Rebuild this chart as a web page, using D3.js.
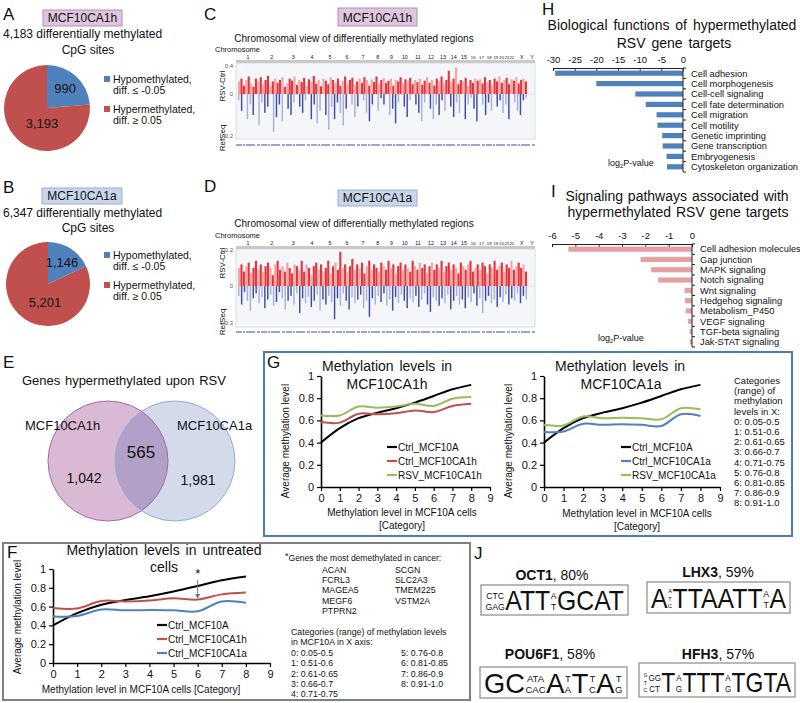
<!DOCTYPE html>
<html>
<head>
<meta charset="utf-8">
<script src="https://cdn.jsdelivr.net/npm/d3@7/dist/d3.min.js"></script>
<style>
html,body{margin:0;padding:0;background:#fff;}
svg{display:block;font-family:"Liberation Sans",Arial,Helvetica,sans-serif;}
</style>
</head>
<body>
<svg id="fig" width="800" height="703"></svg>
<script>
// ================= DATA =================
const pieSeriesNames = ["Hypomethylated,", "Hypermethylated,"];
const pieSeriesSub = ["diff. \u2264 -0.05", "diff. \u2265 0.05"];
const pieValuesA = [990, 3193];
const pieValuesB = [1146, 5201];

const chromNames = ["1","2","3","4","5","6","7","8","9","10","11","12","13","14","15","16","17","18","19","20","21","22","X","Y"];
const chromLenMb = [249,243,198,191,181,171,159,146,141,136,135,134,115,107,103,90,81,78,59,63,48,51,155,59];

const cHyper = [0.18,0.22,0.12,0.2,0.25,0.15,0.1,0.22,0.18,0.24,
0.14,0.2,0.26,0.12,0.18,0.22,0.16,0.2,0.24,0.1,
0.15,0.22,0.19,0.25,0.13,0.2,0.17,0.23,0.12,0.21,
0.18,0.26,0.15,0.2,0.11,0.22,0.19,0.14,0.24,0.2,
0.16,0.22,0.12,0.19,0.25,0.15,0.2,0.23,0.13,0.18,
0.22,0.16,0.24,0.2,0.12,0.21,0.17,0.25,0.14,0.2,
0.23,0.16,0.19,0.22,0.12,0.2,0.18,0.24,0.15,0.21,
0.19,0.23,0.14,0.2,0.17,0.22,0.13,0.19,0.24,0.16,
0.2,0.12,0.22,0.18,0.25,0.15,0.2,0.33,0.17,0.22,
0.38,0.14,0.2,0.18,0.23,0.12,0.2,0.16,0.22,0.19,
0.21,0.15,0.24,0.17,0.2,0.13,0.22,0.18,0.25,0.16,
0.2,0.23,0.14,0.21,0.19,0.24,0.15,0.2,0.22,0.18];
const cHypo = [0.03,0.08,0,0.12,0.05,0.1,0,0.15,0.04,0.09,
0.06,0,0.18,0.11,0.05,0.13,0,0.07,0.1,0.04,
0,0.06,0.09,0.03,0,0.12,0.05,0.14,0.08,0,
0.1,0.17,0.06,0.12,0.04,0.09,0.15,0.07,0,0.05,
0.11,0.06,0,0.03,0.09,0.13,0.05,0,0.08,0.02,
0.05,0,0.1,0.07,0.14,0.04,0,0.06,0.11,0.03,
0,0.05,0.09,0.13,0.04,0,0.07,0.12,0.05,0.1,
0.03,0.08,0,0.06,0.11,0.04,0.09,0,0.12,0.05,
0.02,0.07,0.13,0,0.05,0.1,0.04,0.08,0,0.06,
0.03,0.09,0.05,0.12,0,0.04,0.08,0.1,0.03,0.02];
const dHyper = [0.1,0.12,0.08,0.11,0.13,0.07,0.1,0.14,0.09,0.12,
0.08,0.11,0.13,0.1,0.06,0.12,0.14,0.09,0.11,0.08,
0.13,0.1,0.07,0.12,0.11,0.09,0.14,0.08,0.12,0.1,
0.06,0.11,0.13,0.09,0.12,0.08,0.1,0.14,0.07,0.11,
0.13,0.09,0.19,0.1,0.12,0.08,0.11,0.15,0.09,0.12,
0.1,0.13,0.07,0.11,0.14,0.09,0.12,0.1,0.08,0.13,
0.11,0.09,0.14,0.1,0.12,0.07,0.11,0.13,0.09,0.12,
0.1,0.08,0.14,0.11,0.09,0.13,0.1,0.12,0.07,0.11,
0.13,0.09,0.12,0.1,0.14,0.08,0.11,0.13,0.09,0.12,
0.1,0.07,0.13,0.11,0.09,0.12,0.14,0.08,0.1,0.12,
0.09,0.13,0.11,0.07,0.12,0.1,0.14,0.09,0.11,0.13,
0.08,0.12,0.1,0.14,0.09,0.11,0.13,0.1,0.12,0.08];
const dHypo = [0.08,0.15,0.05,0.12,0.2,0.1,0.06,0.14,0.09,0.18,
0.11,0.07,0.16,0.13,0.05,0.1,0.19,0.12,0.08,0.15,
0.06,0.22,0.1,0.14,0.09,0.17,0.12,0.07,0.2,0.11,
0.15,0.08,0.13,0.27,0.1,0.16,0.06,0.12,0.19,0.09,
0.14,0.11,0.07,0.18,0.12,0.25,0.1,0.15,0.08,0.13,
0.06,0.16,0.11,0.2,0.09,0.14,0.07,0.12,0.18,0.1,
0.13,0.08,0.17,0.11,0.06,0.15,0.21,0.09,0.12,0.16,
0.1,0.14,0.07,0.19,0.12,0.08,0.15,0.11,0.18,0.09,
0.13,0.06,0.16,0.1,0.22,0.12,0.08,0.14,0.11,0.17,
0.09,0.13,0.07,0.15,0.1,0.12,0.06,0.14,0.08,0.11];

const vennSets = ["MCF10CA1h", "MCF10CA1a"];
const vennCounts = ["1,042", "565", "1,981"];

const bioFunctions = ["Cell adhesion","Cell morphogenesis","Cell-cell signaling","Cell fate determination","Cell migration","Cell motility","Genetic imprinting","Gene transcription","Embryogenesis","Cytoskeleton organization"];
const bioLogP = [-29.5,-20,-11,-8.6,-6.1,-5.9,-4.8,-4.7,-3.8,-3.7];
const bioTicks = [-30,-25,-20,-15,-10,-5,0];

const pathways = ["Cell adhesion molecules","Gap junction","MAPK signaling","Notch signaling","Wnt signaling","Hedgehog signaling","Metabolism_P450","VEGF signaling","TGF-beta signaling","Jak-STAT signaling"];
const pathwayLogP = [-5.3,-2.2,-1.75,-1.45,-0.32,-0.3,-0.27,-0.18,-0.1,-0.09];
const pathwayTicks = [-6,-5,-4,-3,-2,-1,0];

const catX = [0,1,2,3,4,5,6,7,8];
const xTickVals = [0,1,2,3,4,5,6,7,8,9];
const yTickVals = [0,0.2,0.4,0.6,0.8,1];
const ctrlMCF10A = [0.40,0.53,0.62,0.67,0.71,0.76,0.82,0.88,0.92];
const ctrlCA1h   = [0.585,0.58,0.66,0.655,0.665,0.69,0.675,0.73,0.75];
const rsvCA1h    = [0.645,0.645,0.725,0.715,0.725,0.75,0.73,0.795,0.81];
const ctrlCA1a   = [0.495,0.50,0.57,0.56,0.565,0.56,0.55,0.655,0.64];
const rsvCA1a    = [0.56,0.555,0.635,0.62,0.625,0.62,0.61,0.71,0.70];
const seriesNamesG1 = ["Ctrl_MCF10A","Ctrl_MCF10CA1h","RSV_MCF10CA1h"];
const seriesNamesG2 = ["Ctrl_MCF10A","Ctrl_MCF10CA1a","RSV_MCF10CA1a"];
const seriesNamesF  = ["Ctrl_MCF10A","Ctrl_MCF10CA1h","Ctrl_MCF10CA1a"];

const catRangesShort = ["Categories","(range) of","methylation","levels in X:","0: 0.05-0.5","1: 0.51-0.6","2: 0.61-0.65","3: 0.66-0.7","4: 0.71-0.75","5: 0.76-0.8","6: 0.81-0.85","7: 0.86-0.9","8: 0.91-1.0"];
const catRangesF1 = ["0: 0.05-0.5","1: 0.51-0.6","2: 0.61-0.65","3: 0.66-0.7","4: 0.71-0.75"];
const catRangesF2 = ["5: 0.76-0.8","6: 0.81-0.85","7: 0.86-0.9","8: 0.91-1.0"];
const demethGenes1 = ["ACAN","FCRL3","MAGEA5","MEGF6","PTPRN2"];
const demethGenes2 = ["SCGN","SLC2A3","TMEM225","VSTM2A"];

const motifs = [
  {name:"OCT1", pct:"80%", tokens:[["CTC","GAG"],"ATT",["A","T"],"GCAT"]},
  {name:"LHX3", pct:"59%", tokens:["A",["A","T","C"],"TTAATT",["A","T"],"A"]},
  {name:"POU6F1", pct:"58%", tokens:["GC",["ATA","CAC"],"A",["T","A"],"T",["T","C"],"A",["T","G"]]},
  {name:"HFH3", pct:"57%", tokens:[["G","T","C"],["GG","CT"],"T",["A","G"],"TTT",["A","G"],"TGTA"]}
];

// ================= DRAWING =================
const FONT = '"Liberation Sans", Arial, Helvetica, sans-serif';
const svg = d3.select("#fig");
const INK = "#111";
const BLUE = "#4f81bd", RED = "#c0504d", GREEN = "#9bbb59";

function T(parent, x, y, s, size, o = {}) {
  const t = parent.append("text").attr("x", x).attr("y", y).attr("font-size", size)
    .attr("fill", o.fill || INK).text(s);
  if (o.anchor) t.attr("text-anchor", o.anchor);
  if (o.weight) t.attr("font-weight", o.weight);
  if (o.rot !== undefined) t.attr("transform", `rotate(${o.rot},${x},${y})`);
  if (o.ws !== undefined) t.attr("word-spacing", o.ws);
  return t;
}
function tagBox(x, y, w, h, label, fill, stroke) {
  svg.append("rect").attr("x", x).attr("y", y).attr("width", w).attr("height", h)
    .attr("fill", fill).attr("stroke", stroke).attr("stroke-width", 1);
  T(svg, x + w / 2, y + h - 4, label, 12, {anchor: "middle"});
}

// Panel letters
[["A",3,20],["B",3,193],["C",204,20],["D",204,192],["E",3,368],["F",7,558],["G",267,368],["H",542,15],["I",551,197],["J",474,559]]
  .forEach(([l,x,y]) => T(svg, x, y, l, 17));

// ---------- Pies A/B ----------
const pieColors = [BLUE, RED];
function pieChart(cfg, values) {
  const g = svg.append("g").attr("transform", `translate(${cfg.cx},${cfg.cy})`);
  const arcs = d3.pie().sort(null)(values);
  const arc = d3.arc().innerRadius(0).outerRadius(cfg.r);
  g.selectAll("path").data(arcs).join("path").attr("d", arc).attr("fill", (d, i) => pieColors[i]);
  const la = d3.arc().innerRadius(cfg.r * 0.62).outerRadius(cfg.r * 0.62);
  const c0 = la.centroid(arcs[0]);
  T(g, c0[0], c0[1] + 4.5, d3.format(",")(values[0]), 13, {anchor: "middle"});
  T(g, cfg.redLab[0], cfg.redLab[1], d3.format(",")(values[1]), 13, {anchor: "middle"});
  cfg.legY.forEach((ly, i) => {
    svg.append("rect").attr("x", cfg.legX).attr("y", ly - 7).attr("width", 6).attr("height", 6).attr("fill", pieColors[i]);
    T(svg, cfg.legX + 9, ly, pieSeriesNames[i], 10.5);
    T(svg, cfg.legX + 9, ly + 10.5, pieSeriesSub[i], 10.5);
  });
}
tagBox(43, 10, 79, 16, "MCF10CA1h", "#dfc6df", "#b48fb4");
T(svg, 3, 38, "4,183 differentially methylated", 12);
T(svg, 88, 54, "CpG sites", 12, {anchor: "middle"});
pieChart({cx: 47, cy: 108, r: 43, redLab: [-5, 20], legX: 104, legY: [83, 113]}, pieValuesA);

tagBox(42, 188, 80, 16, "MCF10CA1a", "#c8d6ea", "#98afd0");
T(svg, 3, 217, "6,347 differentially methylated", 12);
T(svg, 88, 232, "CpG sites", 12, {anchor: "middle"});
pieChart({cx: 48, cy: 284, r: 42, redLab: [-3, 23], legX: 104, legY: [259, 289]}, pieValuesB);

// ---------- Chromosome views C/D ----------
function chromPanel(cfg, hyper, hypo) {
  const g = svg.append("g");
  const total = d3.sum(chromLenMb);
  const gx = d3.scaleLinear().domain([0, total]).range([cfg.x0, cfg.x1]);
  const starts = [0]; chromLenMb.forEach((l, i) => starts.push(starts[i] + l));
  T(g, cfg.titleX, cfg.titleY, "Chromosomal view of differentially methylated regions", 10, {anchor: "middle"});
  T(g, 215, cfg.band - 8.5, "Chromosome", 7.5);
  g.selectAll(".cl").data(chromNames).join("text")
    .attr("x", (d, i) => gx(starts[i] + chromLenMb[i] / 2)).attr("y", cfg.band - 1.5)
    .attr("text-anchor", "middle").attr("font-size", (d, i) => i >= 15 && i <= 21 ? 4.3 : 5.3).attr("fill", INK).text(d => d);
  g.append("rect").attr("x", cfg.x0).attr("y", cfg.band).attr("width", cfg.x1 - cfg.x0).attr("height", 3).attr("fill", "#c8c8c8");
  g.selectAll(".ct").data(chromNames).join("line")
    .attr("x1", (d, i) => gx(starts[i] + chromLenMb[i] / 2)).attr("x2", (d, i) => gx(starts[i] + chromLenMb[i] / 2))
    .attr("y1", cfg.band + 3).attr("y2", cfg.band + 5).attr("stroke", "#888").attr("stroke-width", 0.6);
  g.append("rect").attr("x", cfg.x0).attr("y", cfg.band + 3).attr("width", cfg.x1 - cfg.x0).attr("height", cfg.plotBottom - cfg.band - 3)
    .attr("fill", "#f5f6fa").attr("stroke", "#cfd2da").attr("stroke-width", 0.7);
  const y = d3.scaleLinear().domain(cfg.yDomain).range(cfg.yRange);
  g.append("line").attr("x1", cfg.x0).attr("x2", cfg.x1).attr("y1", y(0)).attr("y2", y(0)).attr("stroke", "#d8d8d8").attr("stroke-width", 0.6);
  const bx = d3.scaleBand().domain(d3.range(hyper.length)).range([cfg.x0 + 2, cfg.x1 - 8]).paddingInner(0.12);
  g.selectAll(".hb").data(hyper).join("rect")
    .attr("x", (d, i) => bx(i)).attr("width", bx.bandwidth())
    .attr("y", d => y(d)).attr("height", d => y(0) - y(d))
    .attr("fill", (d, i) => (i * 7) % 5 < 2 ? "#f3a5a6" : "#e5343a");
  const bx2 = d3.scaleBand().domain(d3.range(hypo.length)).range([cfg.x0 + 2, cfg.x1 - 8]).paddingInner(0.5);
  g.selectAll(".lb").data(hypo).join("rect")
    .attr("x", (d, i) => bx2(i)).attr("width", bx2.bandwidth())
    .attr("y", y(0)).attr("height", d => y(-d) - y(0))
    .attr("fill", (d, i) => (i * 3) % 4 < 2 ? "#a9afd9" : "#3f4ca6");
  const yl = [cfg.yDomain[2], 0, cfg.yDomain[0]];
  yl.forEach(v => T(g, 233, y(v) + 2, String(v), 6, {anchor: "end", fill: "#555"}));
  T(g, 225, cfg.rsvY, "RSV-Ctrl", 8, {anchor: "middle", rot: -90});
  T(g, 225, cfg.refY, "RefSeq", 8, {anchor: "middle", rot: -90});
  g.append("line").attr("x1", cfg.x0).attr("x2", cfg.x1).attr("y1", cfg.refLine).attr("y2", cfg.refLine)
    .attr("stroke", "#3a4aa8").attr("stroke-width", 1.2).attr("stroke-dasharray", "6,1,2,1,9,2,3,1");
}
tagBox(338, 8, 79, 18, "MCF10CA1h", "#dfc6df", "#b48fb4");
chromPanel({x0: 236, x1: 535, band: 60, plotBottom: 139, yDomain: [-0.2, 0, 0.4], yRange: [136, 94, 66],
  titleX: 354, titleY: 42, rsvY: 86, refY: 138, refLine: 145}, cHyper, cHypo);
tagBox(338, 190, 79, 16, "MCF10CA1a", "#c8d6ea", "#98afd0");
chromPanel({x0: 236, x1: 535, band: 246, plotBottom: 327, yDomain: [-0.3, 0, 0.2], yRange: [323, 286, 250],
  titleX: 354, titleY: 227, rsvY: 263, refY: 322, refLine: 332}, dHyper, dHypo);

// ---------- H / I bar charts ----------
function hbar(cfg, cats, vals, ticks, color) {
  const g = svg.append("g");
  const x = d3.scaleLinear().domain([ticks[0], 0]).range([cfg.x0, cfg.x1]);
  const y = d3.scaleBand().domain(cats).range([cfg.y0, cfg.y1]).paddingInner(0.5).paddingOuter(0.25);
  const ax = g.append("g").attr("transform", `translate(0,${cfg.y0})`)
    .call(d3.axisTop(x).tickValues(ticks).tickFormat(d => String(d)).tickSize(-3).tickPadding(5).tickSizeOuter(0));
  ax.attr("font-family", FONT).attr("font-size", 9.5);
  ax.select(".domain").attr("stroke", "#222");
  ax.selectAll(".tick line").attr("stroke", "#222");
  ax.selectAll("text").attr("fill", INK);
  g.selectAll(".bar").data(vals).join("rect")
    .attr("x", d => x(d)).attr("width", d => x(0) - x(d))
    .attr("y", (d, i) => y(cats[i])).attr("height", y.bandwidth()).attr("fill", color);
  g.append("line").attr("x1", x(0)).attr("x2", x(0)).attr("y1", cfg.y0).attr("y2", cfg.y1).attr("stroke", "#222");
  const step = (cfg.y1 - cfg.y0) / cats.length;
  g.selectAll(".ctk").data(d3.range(cats.length + 1)).join("line")
    .attr("x1", x(0)).attr("x2", x(0) + 3).attr("y1", i => cfg.y0 + i * step).attr("y2", i => cfg.y0 + i * step)
    .attr("stroke", "#222");
  g.selectAll(".lab").data(cats).join("text")
    .attr("x", cfg.labX).attr("y", d => y(d) + y.bandwidth() / 2 + 3.3)
    .attr("font-size", 9.3).attr("fill", INK).text(d => d);
  const lp = T(g, cfg.lpX, cfg.lpY, "log", 9);
  lp.append("tspan").attr("font-size", 6).attr("dy", 2).text("2");
  lp.append("tspan").attr("dy", -2).text("P-value");
}
T(svg, 672, 30, "Biological functions of hypermethylated", 14, {anchor: "middle", ws: 2});
T(svg, 674, 48, "RSV gene targets", 14, {anchor: "middle", ws: 2});
hbar({x0: 553, x1: 683, y0: 68, y1: 172, labX: 691, lpX: 608, lpY: 166}, bioFunctions, bioLogP, bioTicks, BLUE);
T(svg, 677, 201, "Signaling pathways associated with", 14, {anchor: "middle", ws: 1});
T(svg, 678, 217, "hypermethylated RSV gene targets", 14, {anchor: "middle", ws: 1});
hbar({x0: 552, x1: 692, y0: 244, y1: 347, labX: 700, lpX: 598, lpY: 341}, pathways, pathwayLogP, pathwayTicks, "#e5a1a0");

// ---------- Venn E ----------
T(svg, 22, 385, "Genes hypermethylated upon RSV", 13, {ws: 1});
(function venn() {
  const L = {c1: [108, 461], c2: [175, 461], r: 60};
  const defs = svg.append("defs");
  defs.append("clipPath").attr("id", "vclip").append("circle").attr("cx", L.c1[0]).attr("cy", L.c1[1]).attr("r", L.r);
  svg.append("circle").attr("cx", L.c1[0]).attr("cy", L.c1[1]).attr("r", L.r).attr("fill", "#d9b9d4");
  svg.append("circle").attr("cx", L.c2[0]).attr("cy", L.c2[1]).attr("r", L.r).attr("fill", "#d3dbeb");
  svg.append("circle").attr("cx", L.c2[0]).attr("cy", L.c2[1]).attr("r", L.r).attr("fill", "#b3a0c9").attr("clip-path", "url(#vclip)");
  svg.append("circle").attr("cx", L.c1[0]).attr("cy", L.c1[1]).attr("r", L.r).attr("fill", "none").attr("stroke", "#a76b9f").attr("stroke-width", 1);
  svg.append("circle").attr("cx", L.c2[0]).attr("cy", L.c2[1]).attr("r", L.r).attr("fill", "none").attr("stroke", "#92acd8").attr("stroke-width", 1);
  T(svg, 25, 430, vennSets[0], 13);
  T(svg, 177, 430, vennSets[1], 13);
  T(svg, 141, 458, vennCounts[1], 17, {anchor: "middle"});
  T(svg, 84, 483, vennCounts[0], 14, {anchor: "middle"});
  T(svg, 198, 485, vennCounts[2], 14, {anchor: "middle"});
})();

// ---------- Line charts ----------
function lineChart(cfg, series, names) {
  const g = svg.append("g");
  const x = d3.scaleLinear().domain([0, 9]).range([cfg.x0, cfg.x1]);
  const y = d3.scaleLinear().domain([0, 1]).range([cfg.yb, cfg.yt]);
  const ya = g.append("g").attr("transform", `translate(${cfg.x0},0)`)
    .call(d3.axisLeft(y).tickValues(yTickVals).tickFormat(d => (d === 0 || d === 1) ? String(d) : d.toFixed(1)).tickSize(4).tickSizeOuter(0).tickPadding(3));
  const xa = g.append("g").attr("transform", `translate(0,${cfg.yb})`)
    .call(d3.axisBottom(x).tickValues(xTickVals).tickFormat(d => String(d)).tickSize(4).tickSizeOuter(0).tickPadding(3));
  [ya, xa].forEach(a => {
    a.attr("font-family", FONT).attr("font-size", 11);
    a.select(".domain").attr("stroke", "#000").attr("stroke-width", 1.6);
    a.selectAll(".tick line").attr("stroke", "#000").attr("stroke-width", 1.2);
    a.selectAll("text").attr("fill", INK);
  });
  const line = d3.line().x((d, i) => x(catX[i])).y(d => y(d)).curve(d3.curveCatmullRom.alpha(0.5));
  series.forEach(s => g.append("path").attr("d", line(s.values)).attr("fill", "none").attr("stroke", s.color).attr("stroke-width", 2));
  series.forEach((s, i) => {
    const ly = cfg.legY + i * cfg.legDy;
    g.append("line").attr("x1", cfg.legX).attr("x2", cfg.legX + 10).attr("y1", ly).attr("y2", ly).attr("stroke", s.color).attr("stroke-width", 2.2);
    T(g, cfg.legX + 11, ly + 3.6, names[i], 10);
  });
  T(g, cfg.ytX, cfg.ytY, "Average methylation level", 10, {anchor: "middle", rot: -90});
  return {x, y, g};
}

svg.append("rect").attr("x", 264).attr("y", 352).attr("width", 528).attr("height", 184)
  .attr("fill", "none").attr("stroke", "#4b7bb8").attr("stroke-width", 2);
T(svg, 387, 371, "Methylation levels in", 14, {anchor: "middle", ws: 2});
T(svg, 387, 389, "MCF10CA1h", 14, {anchor: "middle"});
lineChart({x0: 321, x1: 490, yb: 487, yt: 376, legX: 387, legY: 447, legDy: 14, ytX: 289, ytY: 441},
  [{values: ctrlMCF10A, color: "#000"}, {values: ctrlCA1h, color: RED}, {values: rsvCA1h, color: GREEN}], seriesNamesG1);
T(svg, 402, 516, "Methylation level in MCF10A cells", 10, {anchor: "middle"});
T(svg, 402, 529, "[Category]", 10, {anchor: "middle"});

T(svg, 620, 371, "Methylation levels in", 14, {anchor: "middle", ws: 2});
T(svg, 621, 389, "MCF10CA1a", 14, {anchor: "middle"});
lineChart({x0: 544, x1: 720, yb: 487, yt: 376, legX: 621, legY: 447, legDy: 14, ytX: 512, ytY: 441},
  [{values: ctrlMCF10A, color: "#000"}, {values: ctrlCA1a, color: BLUE}, {values: rsvCA1a, color: GREEN}], seriesNamesG2);
T(svg, 637, 517, "Methylation level in MCF10A cells", 10, {anchor: "middle"});
T(svg, 637, 530, "[Category]", 10, {anchor: "middle"});
catRangesShort.forEach((s, i) => T(svg, 734, 384 + i * 10.2, s, 9.5));

svg.append("rect").attr("x", 3).attr("y", 543).attr("width", 467).attr("height", 157)
  .attr("fill", "none").attr("stroke", "#808080").attr("stroke-width", 2);
T(svg, 164, 555, "Methylation levels in untreated", 14, {anchor: "middle", ws: 2});
T(svg, 164, 572, "cells", 14, {anchor: "middle"});
const F = lineChart({x0: 53, x1: 270, yb: 663, yt: 569, legX: 157, legY: 625, legDy: 14, ytX: 21, ytY: 617},
  [{values: ctrlMCF10A, color: "#000"}, {values: ctrlCA1h, color: RED}, {values: ctrlCA1a, color: BLUE}], seriesNamesF);
T(svg, 141, 693, "Methylation level in MCF10A cells [Category]", 10, {anchor: "middle"});
(function () {
  const ax = F.x(6);
  T(svg, ax, 578, "*", 13, {anchor: "middle"});
  svg.append("line").attr("x1", ax).attr("x2", ax).attr("y1", 580).attr("y2", 597).attr("stroke", "#777").attr("stroke-width", 1);
  svg.append("path").attr("d", `M${ax - 2.5},${594} L${ax + 2.5},${594} L${ax},${599} Z`).attr("fill", "#777");
})();
(function () {
  const t = T(svg, 285, 559, "*", 9);
  t.append("tspan").attr("font-size", 8.5).attr("dy", 1.5).text("Genes the most demethylated  in cancer:");
  demethGenes1.forEach((s, i) => T(svg, 322, 573 + i * 10.2, s, 8.8));
  demethGenes2.forEach((s, i) => T(svg, 395, 573 + i * 10.2, s, 8.8));
  T(svg, 291, 635, "Categories (range) of methylation levels", 8.8);
  T(svg, 291, 645, "in MCF10A  in X axis:", 8.8);
  catRangesF1.forEach((s, i) => T(svg, 291, 656 + i * 10.3, s, 8.8));
  catRangesF2.forEach((s, i) => T(svg, 401, 656 + i * 10.3, s, 8.8));
})();

// ---------- Motifs J ----------
const motifLayout = [
  {bx: 481, by: 585, bw: 147, bh: 30, tx: 552, ty: 580},
  {bx: 647, by: 582, bw: 143, bh: 31, tx: 718, ty: 577},
  {bx: 480, by: 667, bw: 147, bh: 31, tx: 550, ty: 659},
  {bx: 639, by: 663, bw: 156, bh: 34, tx: 718, ty: 659}
];
function drawMotif(m, L) {
  svg.append("rect").attr("x", L.bx).attr("y", L.by).attr("width", L.bw).attr("height", L.bh)
    .attr("fill", "#fff").attr("stroke", "#8a8a8a").attr("stroke-width", 1.2);
  const t = svg.append("text").attr("x", L.tx).attr("y", L.ty).attr("text-anchor", "middle").attr("font-size", 14).attr("fill", INK);
  t.append("tspan").attr("font-weight", "bold").text(m.name);
  t.append("tspan").text(", " + m.pct);
  const g = svg.append("g");
  let cx = 0;
  m.tokens.forEach(tok => {
    if (typeof tok === "string") {
      const e = g.append("text").attr("x", cx).attr("y", 0).attr("font-size", 27).attr("fill", INK).text(tok);
      cx += e.node().getComputedTextLength();
    } else {
      const n = tok.length, fs = n === 2 ? 9.5 : 6.2;
      const ys = n === 2 ? [-11.5, -0.5] : [-15, -7.5, 0];
      const rows = tok.map((s, i) => g.append("text").attr("y", ys[i]).attr("font-size", fs).attr("fill", INK).attr("text-anchor", "middle").text(s));
      const w = d3.max(rows, r => r.node().getComputedTextLength());
      rows.forEach(r => r.attr("x", cx + w / 2 + 0.5));
      cx += w + 1;
    }
  });
  const sx = (L.bw - 8) / cx;
  g.attr("transform", `translate(${L.bx + 4},${L.by + L.bh - 5}) scale(${sx},1)`);
}
motifs.forEach((m, i) => drawMotif(m, motifLayout[i]));
</script>
</body>
</html>
